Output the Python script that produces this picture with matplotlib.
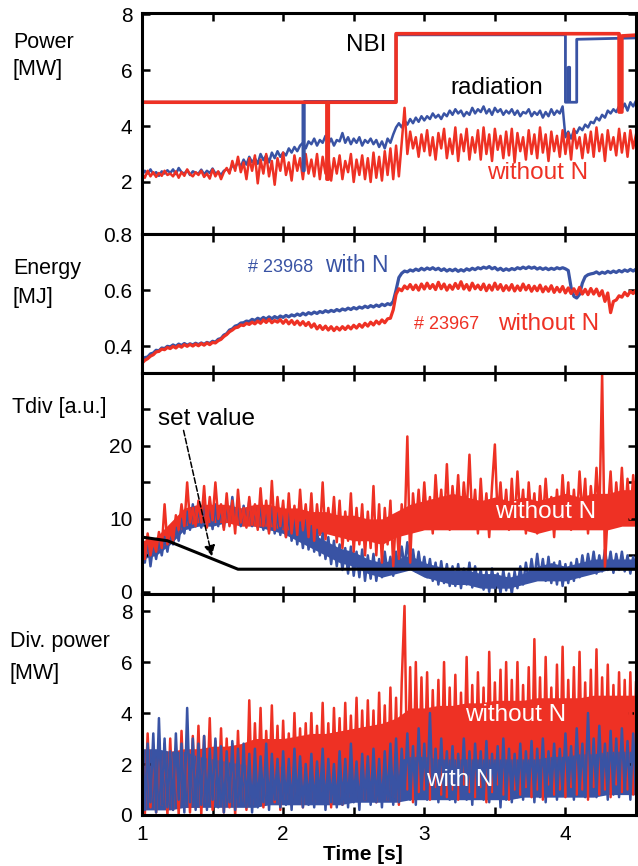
import numpy as np
import matplotlib
matplotlib.use('Agg')
import matplotlib.pyplot as plt

plt.rcParams['font.family'] = ['Liberation Sans', 'DejaVu Sans']

RED = '#ee3124'
BLUE = '#3953a4'

# time base of the sampled traces (1.00 ... 4.50 s, 0.02 s steps)
t = np.round(np.arange(176) * 0.02 + 1.0, 2)
# coarse time base for the dense "core" band of the noisy signals (0.1 s steps)
tc = np.round(np.arange(36) * 0.1 + 1.0, 1)

# ---- panel 1: heating power (NBI) and radiation [MW]
nbi_t_blue = [1.0, 2.14, 2.14, 2.15, 2.15, 2.80, 2.80, 4.00, 4.00, 4.02, 4.02, 4.03, 4.03, 4.08, 4.08, 4.5]
nbi_blue = [4.85, 4.85, 2.4, 2.4, 4.88, 4.88, 7.26, 7.26, 4.85, 4.85, 6.1, 6.1, 4.85, 4.85, 7.1, 7.15]
nbi_t_red = [1.0, 2.31, 2.31, 2.32, 2.32, 2.80, 2.80, 4.38, 4.38, 4.40, 4.40, 4.5]
nbi_red = [4.85, 4.85, 2.1, 2.1, 4.85, 4.85, 7.30, 7.30, 4.5, 4.5, 7.22, 7.25]

rad_blue = [
    2.25, 2.40, 2.30, 2.45, 2.28, 2.35, 2.22, 2.38, 2.30, 2.42,
    2.32, 2.45, 2.28, 2.50, 2.35, 2.30, 2.42, 2.25, 2.38, 2.33,
    2.30, 2.44, 2.27, 2.40, 2.32, 2.48, 2.30, 2.36, 2.25, 2.40,
    2.45, 2.38, 2.60, 2.50, 2.72, 2.55, 2.80, 2.62, 2.90, 2.70,
    2.85, 2.65, 3.00, 2.78, 2.95, 2.70, 3.05, 2.85, 3.10, 2.90,
    3.05, 2.95, 3.20, 3.05, 3.25, 3.10, 3.30, 3.40, 3.20, 3.45,
    3.35, 3.55, 3.30, 3.50, 3.40, 3.65, 3.35, 3.55, 3.30, 3.50,
    3.45, 3.75, 3.40, 3.60, 3.35, 3.55, 3.40, 3.60, 3.30, 3.50,
    3.40, 3.55, 3.35, 3.50, 3.25, 3.45, 3.20, 3.55, 3.40, 3.70,
    3.95, 4.10, 3.95, 4.20, 4.05, 4.25, 4.10, 4.30, 4.15, 4.35,
    4.20, 4.35, 4.25, 4.45, 4.30, 4.40, 4.25, 4.45, 4.35, 4.55,
    4.40, 4.60, 4.45, 4.55, 4.35, 4.50, 4.40, 4.65, 4.45, 4.60,
    4.50, 4.70, 4.45, 4.60, 4.40, 4.65, 4.50, 4.60, 4.40, 4.55,
    4.45, 4.60, 4.40, 4.55, 4.35, 4.50, 4.45, 4.60, 4.35, 4.50,
    4.40, 4.55, 4.30, 4.50, 4.35, 4.60, 4.40, 4.55, 4.45, 4.70,
    3.60, 3.80, 3.55, 3.85, 3.75, 3.95, 3.85, 4.05, 3.95, 4.15,
    4.10, 4.30, 4.20, 4.40, 4.30, 4.55, 4.45, 4.60, 4.50, 4.70,
    4.60, 4.80, 4.55, 4.85, 4.70, 4.90]

rad_red = [
    2.30, 2.15, 2.40, 2.20, 2.35, 2.18, 2.32, 2.22, 2.40, 2.25,
    2.30, 2.20, 2.38, 2.15, 2.35, 2.22, 2.45, 2.28, 2.20, 2.35,
    2.25, 2.40, 2.18, 2.30, 2.12, 2.45, 2.20, 2.38, 2.10, 2.35,
    2.50, 2.30, 2.75, 2.40, 2.90, 2.35, 2.70, 2.10, 2.85, 2.40,
    2.95, 1.95, 2.80, 2.30, 3.00, 2.20, 2.75, 1.90, 2.85, 2.40,
    3.05, 2.25, 2.70, 2.05, 2.95, 2.40, 2.85, 2.10, 3.00, 2.30,
    2.80, 2.20, 3.00, 2.10, 2.90, 2.30, 2.95, 2.05, 2.85, 2.30,
    2.95, 2.10, 2.75, 2.35, 3.00, 2.00, 2.80, 2.25, 2.95, 2.10,
    2.85, 2.00, 3.05, 2.15, 2.90, 2.05, 3.10, 2.25, 3.20, 2.10,
    3.30, 2.20, 3.40, 4.65, 3.00, 3.80, 3.20, 3.60, 2.90, 3.70,
    3.10, 3.85, 2.95, 3.60, 2.80, 3.75, 3.20, 3.90, 2.85, 3.55,
    3.00, 3.95, 2.75, 3.70, 3.10, 3.90, 2.80, 3.60, 3.05, 3.85,
    2.80, 3.95, 3.00, 3.70, 2.75, 3.90, 3.15, 3.65, 2.85, 3.80,
    2.95, 3.90, 2.70, 3.75, 3.10, 3.60, 2.80, 3.85, 3.00, 3.70,
    2.85, 3.95, 3.05, 3.70, 2.75, 3.80, 3.10, 3.65, 2.90, 3.85,
    3.00, 3.75, 2.80, 3.90, 3.20, 3.60, 2.85, 3.70, 3.05, 3.80,
    2.90, 3.95, 3.10, 3.70, 2.75, 3.85, 3.15, 3.60, 2.95, 3.90,
    3.05, 3.75, 2.90, 3.85, 3.20, 3.70]

# ---- panel 2: stored energy [MJ]
en_blue = [
    0.352, 0.360, 0.362, 0.373, 0.376, 0.386, 0.384, 0.394, 0.392, 0.400,
    0.398, 0.405, 0.400, 0.408, 0.403, 0.410, 0.404, 0.409, 0.405, 0.411,
    0.406, 0.412, 0.407, 0.414, 0.410, 0.418, 0.415, 0.425, 0.428, 0.440,
    0.445, 0.458, 0.462, 0.472, 0.475, 0.483, 0.484, 0.490, 0.488, 0.496,
    0.492, 0.500, 0.495, 0.503, 0.497, 0.505, 0.498, 0.506, 0.500, 0.508,
    0.503, 0.510, 0.505, 0.512, 0.508, 0.515, 0.510, 0.518, 0.512, 0.520,
    0.515, 0.522, 0.517, 0.524, 0.520, 0.527, 0.522, 0.528, 0.524, 0.531,
    0.526, 0.533, 0.529, 0.536, 0.531, 0.538, 0.533, 0.540, 0.536, 0.543,
    0.538, 0.545, 0.540, 0.547, 0.542, 0.550, 0.545, 0.552, 0.548, 0.560,
    0.600, 0.645, 0.660, 0.668, 0.665, 0.672, 0.668, 0.675, 0.670, 0.678,
    0.672, 0.679, 0.674, 0.680, 0.673, 0.678, 0.670, 0.676, 0.668, 0.674,
    0.669, 0.675, 0.667, 0.673, 0.668, 0.676, 0.671, 0.678, 0.673, 0.680,
    0.676, 0.682, 0.678, 0.684, 0.676, 0.681, 0.672, 0.678, 0.670, 0.676,
    0.671, 0.677, 0.673, 0.680, 0.676, 0.682, 0.677, 0.683, 0.678, 0.682,
    0.675, 0.680, 0.674, 0.679, 0.673, 0.678, 0.674, 0.680, 0.676, 0.680,
    0.676, 0.670, 0.610, 0.578, 0.572, 0.585, 0.625, 0.648, 0.655, 0.658,
    0.660, 0.665, 0.658, 0.664, 0.660, 0.667, 0.662, 0.668, 0.663, 0.670,
    0.665, 0.672, 0.667, 0.674, 0.668, 0.675]

en_red = [
    0.340, 0.350, 0.356, 0.365, 0.370, 0.380, 0.382, 0.390, 0.388, 0.396,
    0.392, 0.400, 0.394, 0.403, 0.397, 0.406, 0.400, 0.407, 0.401, 0.408,
    0.402, 0.410, 0.404, 0.412, 0.406, 0.414, 0.412, 0.420, 0.425, 0.435,
    0.442, 0.452, 0.458, 0.466, 0.468, 0.476, 0.474, 0.482, 0.478, 0.486,
    0.480, 0.490, 0.482, 0.494, 0.485, 0.496, 0.484, 0.492, 0.486, 0.495,
    0.482, 0.494, 0.480, 0.492, 0.478, 0.490, 0.476, 0.488, 0.474, 0.485,
    0.468, 0.480, 0.462, 0.474, 0.460, 0.472, 0.458, 0.470, 0.456, 0.468,
    0.458, 0.470, 0.460, 0.472, 0.462, 0.475, 0.465, 0.478, 0.468, 0.482,
    0.472, 0.486, 0.476, 0.490, 0.480, 0.494, 0.484, 0.498, 0.500, 0.530,
    0.585, 0.605, 0.598, 0.615, 0.605, 0.620, 0.602, 0.618, 0.600, 0.622,
    0.604, 0.625, 0.606, 0.620, 0.602, 0.628, 0.605, 0.622, 0.600, 0.618,
    0.603, 0.624, 0.606, 0.630, 0.604, 0.620, 0.600, 0.625, 0.605, 0.618,
    0.602, 0.622, 0.598, 0.618, 0.600, 0.625, 0.603, 0.620, 0.598, 0.616,
    0.600, 0.620, 0.597, 0.615, 0.599, 0.622, 0.601, 0.617, 0.596, 0.614,
    0.598, 0.618, 0.594, 0.612, 0.596, 0.616, 0.592, 0.610, 0.594, 0.613,
    0.590, 0.608, 0.588, 0.605, 0.585, 0.610, 0.586, 0.603, 0.584, 0.606,
    0.586, 0.604, 0.580, 0.598, 0.560, 0.590, 0.520, 0.560, 0.565, 0.580,
    0.575, 0.592, 0.580, 0.596, 0.588, 0.600]

# ---- panel 3: divertor temperature [a.u.]
td_blue = [
    6.8, 4.0, 7.2, 3.5, 6.5, 4.5, 7.0, 5.0, 7.5, 5.5,
    8.0, 6.5, 8.8, 7.0, 10.0, 8.0, 11.0, 8.5, 12.0, 9.0,
    11.5, 8.8, 12.3, 9.2, 11.8, 8.6, 12.0, 9.0, 11.5, 8.8,
    12.0, 9.2, 13.0, 9.5, 12.2, 9.0, 11.8, 9.3, 12.5, 9.0,
    11.5, 8.8, 12.0, 8.5, 11.2, 8.2, 11.5, 8.0, 10.8, 7.8,
    10.5, 7.5, 10.8, 7.0, 10.0, 6.5, 9.5, 6.0, 9.8, 5.8,
    9.0, 5.5, 8.5, 5.0, 8.0, 4.5, 7.5, 3.8, 7.0, 3.5,
    6.5, 3.0, 6.0, 2.5, 6.2, 2.2, 5.5, 2.0, 5.8, 1.5,
    5.0, 1.8, 5.2, 1.5, 4.5, 2.0, 5.5, 2.5, 4.8, 2.2,
    5.5, 3.0, 6.2, 3.5, 6.8, 3.2, 5.8, 2.8, 5.5, 2.5,
    4.8, 2.0, 4.5, 1.5, 4.0, 1.0, 4.2, 1.2, 3.8, 0.8,
    3.5, 0.8, 3.8, 0.5, 3.2, 1.0, 4.0, 0.6, 3.5, 1.2,
    3.0, 0.3, 2.8, 0.0, 3.2, 0.5, 2.5, -0.2, 3.0, 0.2,
    2.5, -0.3, 2.8, 0.5, 3.5, 1.0, 4.0, 1.5, 4.5, 1.8,
    5.2, 2.0, 4.5, 1.5, 4.8, 1.2, 4.0, 1.0, 4.2, 0.8,
    3.8, 1.2, 4.0, 1.5, 4.5, 2.0, 5.0, 2.5, 5.2, 2.8,
    5.5, 2.5, 5.0, 2.8, 5.8, 3.0, 5.5, 2.6, 5.2, 3.0,
    5.5, 2.8, 5.0, 2.5, 4.8, 3.0]
td_blue_lo = [4.5, 5.0, 6.5, 8.5, 9.0, 9.0, 9.5, 9.5, 9.0, 8.5, 8.0, 7.0, 6.0, 5.0, 4.0, 3.5, 2.5, 2.0,
              2.5, 3.0, 2.0, 1.5, 1.0, 1.0, 0.5, 0.5, 0.5, 1.0, 1.5, 1.5, 1.5, 2.0, 2.5, 3.0, 3.0, 3.0]
td_blue_hi = [6.5, 7.0, 8.5, 10.5, 11.0, 11.0, 11.5, 11.5, 11.0, 10.5, 10.0, 9.0, 8.0, 7.0, 6.0, 5.5, 4.5, 4.0,
              4.5, 5.0, 4.0, 3.5, 3.0, 3.0, 2.5, 2.5, 2.0, 2.5, 3.5, 4.0, 3.5, 4.0, 4.5, 4.5, 4.5, 4.5]

td_red = [
    7.5, 4.5, 8.0, 5.0, 7.0, 5.5, 8.2, 6.0, 12.0, 6.5,
    8.5, 7.0, 10.5, 8.5, 12.0, 9.0, 15.0, 9.5, 11.5, 9.0,
    12.5, 9.5, 14.5, 8.8, 13.0, 9.8, 15.0, 10.0, 12.0, 8.5,
    13.5, 9.0, 12.5, 8.0, 14.0, 9.5, 11.5, 8.8, 13.0, 9.2,
    12.0, 8.5, 14.2, 9.0, 12.5, 8.0, 15.2, 8.5, 13.0, 9.0,
    12.5, 7.5, 13.5, 8.0, 11.8, 7.8, 14.0, 8.5, 12.0, 7.5,
    13.5, 7.0, 12.0, 7.8, 15.0, 7.2, 11.5, 8.0, 13.0, 6.8,
    12.5, 6.0, 11.0, 7.0, 13.5, 5.5, 11.5, 6.5, 12.0, 5.0,
    11.0, 6.0, 14.5, 5.0, 12.0, 4.0, 11.5, 6.5, 12.5, 3.5,
    10.5, 4.5, 12.0, 8.0, 21.3, 4.0, 13.5, 9.0, 14.0, 8.5,
    15.0, 9.5, 13.0, 8.0, 16.0, 10.0, 14.0, 9.0, 17.5, 8.5,
    14.5, 10.0, 16.0, 9.0, 15.0, 10.5, 18.8, 9.5, 14.0, 8.0,
    15.5, 9.0, 13.5, 7.5, 14.5, 20.2, 10.0, 15.0, 9.5, 14.0,
    8.5, 15.5, 9.0, 16.5, 10.0, 14.0, 8.0, 15.0, 9.5, 13.5,
    8.0, 14.5, 9.5, 15.5, 10.0, 13.0, 7.5, 14.0, 9.0, 16.0,
    10.0, 15.0, 8.5, 14.0, 9.0, 16.5, 10.5, 15.5, 8.0, 14.5,
    10.0, 17.0, 9.5, 30.0, 3.4, 11.0, 16.5, 9.0, 15.0, 10.5,
    17.0, 9.5, 15.5, 10.0, 16.0, 11.0]
td_red_lo = [5.0, 5.5, 7.0, 9.0, 9.5, 9.5, 9.5, 9.0, 9.0, 9.0, 8.5, 8.5, 8.0, 8.0, 7.5, 7.0, 7.0, 6.5,
             7.5, 8.0, 8.5, 8.5, 8.5, 8.5, 8.5, 8.5, 8.5, 8.5, 8.0, 8.5, 8.5, 8.5, 8.5, 8.5, 9.0, 9.0]
td_red_hi = [7.0, 7.5, 9.5, 11.5, 12.0, 12.0, 12.0, 11.5, 12.0, 12.0, 11.5, 11.5, 11.0, 11.0, 10.5, 10.5, 10.0, 10.0,
             11.0, 12.0, 12.5, 13.0, 13.5, 13.0, 12.5, 13.0, 12.5, 13.0, 12.5, 13.0, 13.5, 13.0, 13.5, 13.5, 14.0, 14.0]

set_t = [1.0, 1.18, 1.68, 4.5]
set_val = [7.5, 7.0, 3.1, 3.1]

# ---- panel 4: divertor power [MW]
dp_blue = [
    3.3, 0.2, 2.8, 0.5, 3.2, 0.1, 3.8, 0.4, 3.0, 0.3,
    2.5, 0.2, 3.2, 0.6, 2.8, 0.1, 4.2, 0.5, 3.0, 0.2,
    2.8, 0.4, 3.1, 0.2, 2.6, 0.6, 3.0, 0.3, 2.7, 0.1,
    2.5, 0.5, 2.9, 0.2, 2.6, 0.4, 2.8, 0.3, 2.4, 0.1,
    2.6, 0.3, 2.3, 0.5, 2.8, 0.2, 2.4, 0.6, 2.2, 0.3,
    2.5, 0.4, 2.2, 0.2, 2.6, 0.5, 2.3, 0.3, 2.0, 0.4,
    2.4, 0.3, 2.1, 0.6, 2.6, 0.2, 2.2, 0.5, 2.0, 0.3,
    2.5, 0.4, 2.2, 0.3, 2.8, 0.5, 2.1, 0.2, 2.4, 0.6,
    2.3, 0.4, 2.6, 0.5, 2.2, 0.3, 2.5, 0.6, 2.8, 0.4,
    3.0, 0.5, 2.6, 0.7, 3.2, 0.6, 2.7, 0.4, 3.4, 0.8,
    2.8, 0.6, 4.0, 0.7, 2.6, 0.5, 3.0, 0.8, 2.5, 0.6,
    2.7, 0.5, 2.4, 0.8, 3.0, 0.6, 2.5, 0.4, 2.8, 0.7,
    2.5, 0.6, 2.9, 0.5, 2.4, 0.8, 2.7, 0.3, 3.0, 0.6,
    2.6, 0.5, 2.4, 0.7, 2.8, 0.6, 2.5, 0.8, 2.9, 0.5,
    2.6, 0.7, 3.0, 0.5, 2.5, 0.8, 2.8, 0.6, 2.6, 0.9,
    3.2, 0.8, 2.7, 0.6, 3.4, 0.9, 2.8, 0.7, 4.0, 0.8,
    3.0, 0.7, 3.5, 0.9, 2.8, 0.6, 3.3, 0.8, 3.0, 0.7,
    3.4, 0.9, 2.9, 0.6, 3.2, 0.8]
dp_blue_lo = [0.2, 0.2, 0.2, 0.3, 0.3, 0.3, 0.3, 0.3, 0.3, 0.4, 0.4, 0.4, 0.4, 0.4, 0.4, 0.5, 0.5, 0.5,
              0.5, 0.6, 0.6, 0.6, 0.6, 0.6, 0.6, 0.6, 0.6, 0.7, 0.7, 0.7, 0.7, 0.7, 0.7, 0.8, 0.8, 0.8]
dp_blue_hi = [2.6, 2.6, 2.5, 2.5, 2.3, 2.2, 2.1, 2.0, 1.9, 1.9, 1.9, 1.9, 1.9, 1.9, 2.0, 2.0, 2.0, 2.0,
              2.1, 2.3, 2.3, 2.2, 2.2, 2.2, 2.2, 2.2, 2.2, 2.2, 2.2, 2.3, 2.3, 2.4, 2.4, 2.5, 2.5, 2.5]

dp_red = [
    2.9, 0.0, 3.2, 0.3, 2.7, 0.1, 3.0, 0.4, 2.8, 0.0,
    3.0, 0.2, 2.6, 0.0, 3.3, 0.4, 2.9, 0.1, 3.1, 0.3,
    3.5, 0.0, 3.1, 0.5, 3.8, 0.2, 2.9, 0.4, 3.4, 0.1,
    3.0, 0.3, 2.8, 0.0, 3.3, 0.5, 2.6, 0.2, 4.5, 0.4,
    3.6, 0.6, 4.2, 0.3, 3.3, 0.8, 4.3, 0.5, 3.5, 0.2,
    3.7, 0.6, 3.2, 0.4, 4.0, 0.8, 3.4, 0.3, 3.6, 0.7,
    4.0, 0.5, 3.5, 0.9, 4.4, 0.6, 3.6, 0.3, 4.2, 0.8,
    3.8, 0.4, 4.4, 0.7, 3.9, 0.9, 4.6, 0.5, 4.1, 0.6,
    4.5, 0.8, 4.1, 0.5, 4.8, 0.9, 4.3, 0.6, 5.0, 0.7,
    4.6, 0.4, 5.2, 8.2, 1.0, 5.8, 0.5, 6.0, 0.9, 5.4,
    1.0, 5.6, 0.6, 4.9, 1.1, 5.3, 0.8, 6.0, 0.7, 5.0,
    1.0, 5.5, 0.6, 4.8, 1.2, 6.2, 0.9, 5.1, 0.7, 5.6,
    1.1, 5.0, 0.5, 6.4, 0.9, 5.2, 1.2, 5.7, 0.8, 6.0,
    0.6, 5.3, 1.0, 6.0, 0.8, 5.1, 1.1, 5.8, 0.7, 6.9,
    1.0, 5.4, 0.6, 6.2, 1.2, 5.0, 0.8, 5.9, 1.0, 6.6,
    0.7, 5.3, 1.1, 5.8, 0.8, 6.4, 1.0, 5.2, 0.6, 5.7,
    1.1, 6.5, 0.8, 5.4, 1.0, 5.9, 0.7, 5.1, 1.2, 5.6,
    0.9, 5.3, 1.0, 5.6, 0.8, 5.2]
dp_red_lo = [0.2, 0.3, 0.3, 0.3, 0.3, 0.4, 0.4, 0.5, 0.5, 0.5, 0.6, 0.6, 0.6, 0.6, 0.6, 0.7, 0.7, 0.7,
             0.7, 0.8, 0.9, 0.9, 0.9, 0.9, 0.9, 0.9, 0.9, 0.9, 0.9, 0.9, 0.9, 1.0, 1.0, 1.0, 1.0, 1.0]
dp_red_hi = [2.4, 2.5, 2.5, 2.6, 2.6, 2.7, 2.7, 2.8, 3.0, 3.0, 3.0, 3.1, 3.2, 3.2, 3.3, 3.4, 3.5, 3.6,
             3.8, 4.2, 4.2, 4.3, 4.3, 4.4, 4.4, 4.5, 4.5, 4.5, 4.6, 4.6, 4.6, 4.6, 4.7, 4.7, 4.7, 4.7]


def style(ax, bottom=False):
    for s in ax.spines.values():
        s.set_linewidth(2.2)
    ax.set_xlim(1, 4.5)
    ax.set_xticks(np.arange(1, 4.51, 0.5))
    ax.tick_params(direction='in', top=True, right=True, length=6, width=1.8,
                   labelsize=15, pad=7)
    if bottom:
        ax.set_xticklabels(['1', '', '2', '', '3', '', '4', ''])
    else:
        ax.set_xticklabels([])


fig = plt.figure(figsize=(6.38, 8.66), dpi=100)
L, W = 142 / 638, 494 / 638
ax1 = fig.add_axes([L, 1 - 234 / 866, W, 221 / 866])
ax2 = fig.add_axes([L, 1 - 373 / 866, W, 139 / 866])
ax3 = fig.add_axes([L, 1 - 594 / 866, W, 221 / 866])
ax4 = fig.add_axes([L, 1 - 815 / 866, W, 221 / 866])

# panel 1
ax1.plot(t, rad_blue, color=BLUE, lw=1.8)
ax1.plot(t, rad_red, color=RED, lw=1.8)
ax1.plot(nbi_t_blue, nbi_blue, color=BLUE, lw=2.0)
ax1.plot(nbi_t_red, nbi_red, color=RED, lw=2.6)
ax1.set_ylim(0.14, 8.04)
ax1.set_yticks([2, 4, 6, 8])
ax1.text(2.59, 6.9, 'NBI', fontsize=17.5, ha='center', va='center')
ax1.text(3.51, 5.36, 'radiation', fontsize=17.5, ha='center', va='center')
ax1.text(3.80, 2.32, 'without N', fontsize=17.5, color=RED, ha='center', va='center')
style(ax1)

# panel 2
ax2.plot(t, en_blue, color=BLUE, lw=2.3)
ax2.plot(t, en_red, color=RED, lw=2.3)
ax2.set_ylim(0.305, 0.8)
ax2.set_yticks([0.4, 0.6, 0.8])
ax2.text(1.98, 0.68, '# 23968', fontsize=13, color=BLUE, ha='center', va='center')
ax2.text(2.52, 0.689, 'with N', fontsize=16.5, color=BLUE, ha='center', va='center')
ax2.text(3.16, 0.476, '# 23967', fontsize=13, color=RED, ha='center', va='center')
ax2.text(3.88, 0.478, 'without N', fontsize=17.5, color=RED, ha='center', va='center')
style(ax2)

# panel 3
ax3.fill_between(tc, td_blue_lo, td_blue_hi, color=BLUE, lw=0)
ax3.plot(t, td_blue, color=BLUE, lw=1.8)
ax3.fill_between(tc, td_red_lo, td_red_hi, color=RED, lw=0)
ax3.plot(t, td_red, color=RED, lw=1.8)
ax3.plot(set_t, set_val, color='k', lw=2.2)
ax3.set_ylim(-0.3, 30)
ax3.set_yticks([0, 5, 10, 15, 20, 25])
ax3.set_yticklabels(['0', '', '10', '', '20', ''])
ax3.text(1.46, 23.7, 'set value', fontsize=17.5, ha='center', va='center')
ax3.annotate('', xy=(1.50, 4.5), xytext=(1.29, 22.5),
             arrowprops=dict(arrowstyle='-|>', linestyle='--', color='k',
                             lw=1.1, mutation_scale=16))
ax3.text(3.86, 11.0, 'without N', fontsize=17.5, color='white', ha='center', va='center')
style(ax3)

# panel 4
ax4.fill_between(tc, dp_red_lo, dp_red_hi, color=RED, lw=0)
ax4.plot(t, dp_red, color=RED, lw=1.8)
ax4.fill_between(tc, dp_blue_lo, dp_blue_hi, color=BLUE, lw=0)
ax4.plot(t, dp_blue, color=BLUE, lw=1.8)
ax4.set_ylim(0, 8.67)
ax4.set_yticks([0, 2, 4, 6, 8])
ax4.text(3.65, 3.92, 'without N', fontsize=17.5, color='white', ha='center', va='center')
ax4.text(3.25, 1.37, 'with N', fontsize=17.5, color='white', ha='center', va='center')
style(ax4, bottom=True)

# panel labels
lab = dict(fontsize=15.5, ha='left', va='center')
fig.text(13 / 638, 1 - 42 / 866, 'Power', **lab)
fig.text(13 / 638, 1 - 70 / 866, '[MW]', **lab)
fig.text(13 / 638, 1 - 268 / 866, 'Energy', **lab)
fig.text(13 / 638, 1 - 297 / 866, '[MJ]', **lab)
fig.text(12 / 638, 1 - 408 / 866, 'Tdiv [a.u.]', **lab)
fig.text(10 / 638, 1 - 641 / 866, 'Div. power', **lab)
fig.text(10 / 638, 1 - 673 / 866, '[MW]', **lab)
fig.text(363 / 638, 1 - 855 / 866, 'Time [s]', fontsize=15, fontweight='bold',
         ha='center', va='center')

fig.savefig('out.png', dpi=100)
